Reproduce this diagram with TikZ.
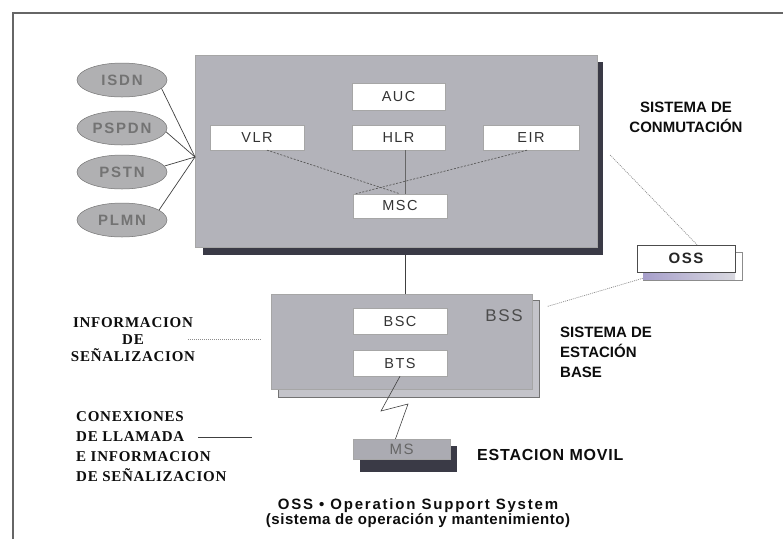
\documentclass[tikz,border=0pt]{standalone}
\usepackage{fontspec}
\setmainfont{Liberation Sans}
\newfontfamily\boxfam{Liberation Sans}[LetterSpace=10]
\newfontfamily\netfam{Liberation Sans}[LetterSpace=12]
\newfontfamily\capfam{Liberation Sans}
\newfontfamily\movfam{Liberation Sans}[LetterSpace=5]
\newfontfamily\footAfam{Liberation Sans}[LetterSpace=12]
\newfontfamily\footBfam{Liberation Sans}[LetterSpace=3.5]
\newfontfamily\serfam{Liberation Serif}[LetterSpace=5]
\usetikzlibrary{shapes.geometric,calc}
\definecolor{panelc}{HTML}{B3B3BA}
\definecolor{backc}{HTML}{C4C4CA}
\definecolor{shadowc}{HTML}{3A3A46}
\definecolor{ellc}{HTML}{B0B0B2}
\definecolor{msc}{HTML}{ABABB2}
\definecolor{stripL}{HTML}{A79FCB}
\definecolor{stripR}{HTML}{D9D9E0}
\begin{document}
\begin{tikzpicture}[x=1pt,y=-1pt,
  panel/.style={fill=panelc, draw=black!35, line width=0.3pt, inner sep=0pt},
  inbox/.style={fill=white, draw=black!35, line width=0.4pt, inner sep=0pt,
    minimum width=94pt, minimum height=25pt,
    font=\boxfam\fontsize{14.5}{16}\selectfont, text=black!80},
  net/.style={ellipse, fill=ellc, draw=black!55, line width=0.5pt,
    minimum width=90pt, minimum height=34pt, inner sep=0pt,
    font=\netfam\bfseries\fontsize{15}{16}\selectfont, text=black!55},
  link/.style={draw=black!75, line width=0.7pt},
  thinlink/.style={draw=black!60, line width=0.5pt},
  dlink/.style={draw=black!65, line width=0.7pt, dash pattern=on 2pt off 1.5pt},
  dotlink/.style={draw=black!45, line width=0.7pt, dash pattern=on 1pt off 1pt},
  syscap/.style={inner sep=0pt, text=black!95,
    font=\capfam\bfseries\fontsize{15}{20}\selectfont},
  sercap/.style={inner sep=0pt, text=black!95,
    font=\serfam\bfseries\fontsize{15}{17}\selectfont},
]
\useasboundingbox (0,0) rectangle (783,539);
% frame
\draw[draw=black!60, line width=1.2pt] (13,539) -- (13,13) -- (783,13);

% core switching system
\fill[shadowc] (203,62) rectangle (603,255);
\node[panel, minimum width=402pt, minimum height=192pt] (core) at (396,151) {};
\node[inbox, minimum width=93pt, minimum height=27pt] (auc) at (398.5,96.5) {AUC};
\node[inbox, minimum width=93pt] (hlr) at (398.5,137.5) {HLR};
\node[inbox] (vlr) at (257,137.5) {VLR};
\node[inbox, minimum width=96pt] (eir) at (531,137.5) {EIR};
\node[inbox, minimum height=24pt] (msc) at (400,206) {MSC};
\draw[dlink] ($(vlr.south)+(10,0)$) -- (msc.north);
\draw[dlink] ($(eir.south)+(-4,0)$) -- ($(msc.north west)+(3,0)$);
\draw[thinlink] ($(hlr.south)+(6.5,0)$) -- ($(msc.north)+(5,0)$);

% external networks
\node[net] (isdn) at (122,80) {ISDN};
\node[net] (pspdn) at (122,128) {PSPDN};
\node[net] (pstn) at (122,172) {PSTN};
\node[net] (plmn) at (122,220) {PLMN};
\coordinate (hub) at (195,157);
\draw[link] (isdn.-12) -- (hub);
\draw[link] (pspdn.-5) -- (hub);
\draw[link] (pstn.8) -- (hub);
\draw[link] (plmn.15) -- (hub);

\node[syscap, align=center] (sc) at (686,117) {SISTEMA DE\\CONMUTACIÓN};

% OSS
\filldraw[fill=white, draw=black!45, line width=0.5pt] (643,252) rectangle (742,280);
\shade[left color=stripL, right color=stripR] (643,272) rectangle (735,279.5);
\node[fill=white, draw=black!70, line width=0.6pt, inner sep=0pt,
  minimum width=98pt, minimum height=27pt,
  font=\boxfam\bfseries\fontsize{15}{16}\selectfont, text=black!85] (oss) at (686,258.5) {OSS};

% BSS
\filldraw[fill=backc, draw=black!55, line width=0.5pt] (278,300) rectangle (539,397);
\node[panel, minimum width=261pt, minimum height=95pt] (bss) at (401.5,341.5) {};
\node[inbox, minimum height=26pt] (bsc) at (400,321) {BSC};
\node[inbox, minimum height=26pt] (bts) at (400,363) {BTS};
\node[inner sep=0pt, font=\boxfam\fontsize{17}{19}\selectfont, text=black!70] (bsslbl) at (504,316) {BSS};
\node[syscap, align=left, anchor=west] (sb) at (560,352.5) {SISTEMA DE\\ESTACIÓN\\BASE};

% connectors
\draw[link] ($(core.south)+(9,8)$) -- ($(bss.north)+(3.5,0)$);
\draw[dotlink] ($(core.east)+(13,4)$) -- ($(oss.north)+(11,0)$);
\draw[dotlink] ($(oss.south west)+(6,6)$) -- ($(bss.east)+(15,-35)$);

% MS
\fill[shadowc] (360,446) rectangle (457,472);
\node[panel, fill=msc, minimum width=97pt, minimum height=20pt,
  font=\boxfam\fontsize{15}{16}\selectfont, text=black!60] (ms) at (401.5,449) {MS};
\draw[link, line width=0.6pt] (bts.south) -- (381,411) -- (408,404) -- ($(ms.north)+(-6,0)$);
\node[inner sep=0pt, anchor=west, text=black!95,
  font=\movfam\bfseries\fontsize{16}{18}\selectfont] (mv) at (477,455) {ESTACION MOVIL};

% left legends
\node[sercap, align=center] (info) at (133,340) {INFORMACION\\DE\\SEÑALIZACION};
\coordinate (i1) at (188,339);
\coordinate (i2) at (262,339);
\draw[dotlink] (i1) -- (i2);
\node[sercap, align=left, anchor=west, font=\serfam\bfseries\fontsize{15}{20}\selectfont] (conex) at (76,447)
  {CONEXIONES\\DE LLAMADA\\E INFORMACION\\DE SEÑALIZACION};
\coordinate (c1) at (198,437);
\coordinate (c2) at (252,437);
\draw[link] (c1) -- (c2);

% footer
\node[inner sep=0pt, align=center, text=black!95] (foot) at (418,513)
  {{\footAfam\bfseries\fontsize{15}{20}\selectfont OSS • Operation Support System}\\
   {\footBfam\bfseries\fontsize{15}{20}\selectfont (sistema de operación y mantenimiento)}};
\end{tikzpicture}
\end{document}
